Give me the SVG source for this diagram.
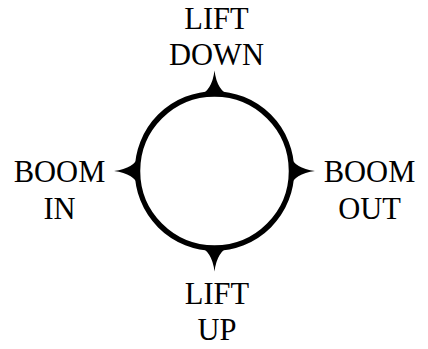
<svg xmlns="http://www.w3.org/2000/svg" xmlns:xlink="http://www.w3.org/1999/xlink" width="428" height="349" viewBox="0 0 428 349">
  <style>
    .lbl { font-family: "Liberation Serif", "Times New Roman", serif; font-size: 30.5px; fill: #000; text-anchor: middle; }
    .ring { fill: none; stroke: #000; stroke-width: 5.5; }
    .spike { fill: #000; stroke: none; }
  </style>
  <defs>
    <path id="spike" class="spike" d="M -16,-75 Q -2.5,-80 0,-100.5 Q 2.5,-80 16,-75 Z"/>
  </defs>
  <rect width="428" height="349" fill="#fff"/>
  <g id="dial" transform="translate(214.5,171)">
    <circle class="ring" cx="0" cy="0" r="77"/>
    <use xlink:href="#spike"/>
    <use xlink:href="#spike" transform="rotate(90)"/>
    <use xlink:href="#spike" transform="rotate(180)"/>
    <use xlink:href="#spike" transform="rotate(270)"/>
  </g>
  <g id="lift-down">
    <text class="lbl" x="216.5" y="29">LIFT</text>
    <text class="lbl" x="216.5" y="65">DOWN</text>
  </g>
  <g id="boom-in">
    <text class="lbl" x="59.5" y="182">BOOM</text>
    <text class="lbl" x="59.5" y="219">IN</text>
  </g>
  <g id="boom-out">
    <text class="lbl" x="369.5" y="182">BOOM</text>
    <text class="lbl" x="369.5" y="219">OUT</text>
  </g>
  <g id="lift-up">
    <text class="lbl" x="217" y="304">LIFT</text>
    <text class="lbl" x="217" y="340">UP</text>
  </g>
</svg>
